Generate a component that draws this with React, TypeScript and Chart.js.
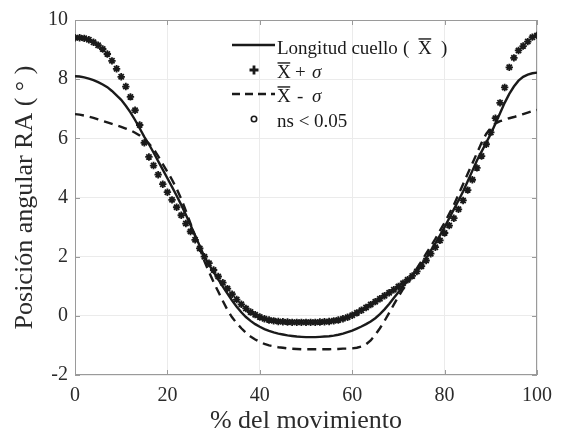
import React, { useEffect, useRef } from "react";
import { Chart, registerables } from "chart.js";

Chart.register(...registerables);

// % del movimiento (x)
const pctMovimiento = [
  0, 1, 2, 3, 4, 5, 6, 7, 8, 9, 10, 11, 12, 13, 14, 15, 16, 17, 18, 19, 20,
  21, 22, 23, 24, 25, 26, 27, 28, 29, 30, 31, 32, 33, 34, 35, 36, 37, 38, 39, 40,
  41, 42, 43, 44, 45, 46, 47, 48, 49, 50, 51, 52, 53, 54, 55, 56, 57, 58, 59, 60,
  61, 62, 63, 64, 65, 66, 67, 68, 69, 70, 71, 72, 73, 74, 75, 76, 77, 78, 79, 80,
  81, 82, 83, 84, 85, 86, 87, 88, 89, 90, 91, 92, 93, 94, 95, 96, 97, 98, 99, 100,
];

// Longitud cuello (media)
const mediaLongitud = [
  8.1, 8.09, 8.06, 8.02, 7.97, 7.9, 7.82, 7.73, 7.6, 7.45, 7.3,
  7.1, 6.88, 6.62, 6.34, 6.05, 5.8, 5.52, 5.23, 4.94, 4.65,
  4.36, 4.06, 3.75, 3.42, 3.07, 2.72, 2.36, 2.0, 1.73, 1.48,
  1.23, 0.99, 0.75, 0.52, 0.31, 0.12, -0.04, -0.17, -0.28, -0.37,
  -0.45, -0.51, -0.56, -0.6, -0.63, -0.66, -0.68, -0.7, -0.71, -0.72,
  -0.72, -0.72, -0.71, -0.7, -0.69, -0.67, -0.64, -0.6, -0.55, -0.5,
  -0.43, -0.36, -0.28, -0.19, -0.08, 0.06, 0.22, 0.4, 0.6, 0.8,
  1.0, 1.2, 1.38, 1.56, 1.75, 1.95, 2.2, 2.45, 2.72, 3.0,
  3.3, 3.6, 3.9, 4.2, 4.55, 4.9, 5.25, 5.55, 5.85, 6.15,
  6.5, 6.85, 7.2, 7.5, 7.75, 7.95, 8.08, 8.15, 8.2, 8.22,
];

// Media + sigma
const mediaMasSigma = [
  9.4, 9.4, 9.38, 9.33, 9.25, 9.15, 9.02, 8.85, 8.62, 8.35, 8.08,
  7.75, 7.4, 6.95, 6.45, 5.85, 5.37, 5.08, 4.77, 4.45, 4.18,
  3.92, 3.67, 3.4, 3.12, 2.85, 2.57, 2.28, 2.0, 1.78, 1.55,
  1.33, 1.12, 0.92, 0.73, 0.55, 0.39, 0.25, 0.13, 0.04, -0.04,
  -0.1, -0.14, -0.17, -0.19, -0.2, -0.21, -0.22, -0.22, -0.22, -0.22,
  -0.22, -0.22, -0.21, -0.2, -0.19, -0.17, -0.14, -0.1, -0.05, 0.02,
  0.1, 0.19, 0.28, 0.38, 0.48, 0.58, 0.68, 0.78, 0.88, 0.99,
  1.1, 1.22, 1.35, 1.5, 1.68, 1.87, 2.1, 2.32, 2.55, 2.8,
  3.05, 3.3, 3.6, 3.9, 4.25, 4.6, 5.0, 5.4, 5.8, 6.2,
  6.68, 7.2, 7.72, 8.4, 8.72, 8.97, 9.12, 9.27, 9.42, 9.48,
];

// Media - sigma
const mediaMenosSigma = [
  6.82, 6.8, 6.77, 6.73, 6.69, 6.64, 6.59, 6.54, 6.49, 6.44, 6.39,
  6.33, 6.27, 6.19, 6.1, 5.97, 5.82, 5.64, 5.4, 5.13, 4.87,
  4.6, 4.3, 3.95, 3.55, 3.12, 2.7, 2.27, 1.85, 1.48, 1.14,
  0.82, 0.5, 0.2, -0.05, -0.25, -0.42, -0.57, -0.7, -0.8, -0.88,
  -0.95, -1.0, -1.03, -1.06, -1.08, -1.1, -1.11, -1.12, -1.13, -1.13,
  -1.13, -1.13, -1.13, -1.13, -1.13, -1.12, -1.12, -1.11, -1.11, -1.1,
  -1.08, -1.04, -0.96, -0.83, -0.64, -0.42, -0.17, 0.1, 0.38, 0.65,
  0.9, 1.12, 1.35, 1.6, 1.85, 2.1, 2.35, 2.6, 2.88, 3.15,
  3.45, 3.75, 4.1, 4.45, 4.8, 5.15, 5.5, 5.85, 6.15, 6.35,
  6.5, 6.58, 6.63, 6.68, 6.72, 6.77, 6.82, 6.87, 6.92, 6.96,
];

// ns < 0.05 (no points visible)
const nsX: number[] = [];
const nsY: number[] = [];

const xTicks = [0, 20, 40, 60, 80, 100];
const yTicks = [-2, 0, 2, 4, 6, 8, 10];

const SERIF = "'Liberation Serif', 'Times New Roman', serif";
const AXIS_COLOR = "#9a9a9a";
const INK = "#1a1a1a";

const toPoints = (ys: number[]) => ys.map((y, i) => ({ x: pctMovimiento[i], y }));

const boxPlugin = {
  id: "boxPlugin",
  beforeDatasetsDraw(chart: any) {
    const { ctx, chartArea } = chart;
    const { left, right, top, bottom } = chartArea;
    const xs = chart.scales.x;
    const ys = chart.scales.y;
    ctx.save();
    ctx.strokeStyle = AXIS_COLOR;
    ctx.lineWidth = 1;
    ctx.strokeRect(Math.round(left) + 0.5, Math.round(top) + 0.5, Math.round(right - left) - 1, Math.round(bottom - top) - 1);
    ctx.beginPath();
    const tl = 5;
    xTicks.forEach((v) => {
      const px = Math.round(xs.getPixelForValue(v)) + 0.5;
      ctx.moveTo(px, bottom);
      ctx.lineTo(px, bottom - tl);
      ctx.moveTo(px, top);
      ctx.lineTo(px, top + tl);
    });
    yTicks.forEach((v) => {
      const py = Math.round(ys.getPixelForValue(v)) + 0.5;
      ctx.moveTo(left, py);
      ctx.lineTo(left + tl, py);
      ctx.moveTo(right, py);
      ctx.lineTo(right - tl, py);
    });
    ctx.stroke();
    ctx.restore();
  },
};

const drawXbar = (ctx: CanvasRenderingContext2D, x: number, baseline: number, size: number) => {
  ctx.fillText("X", x, baseline);
  const w = ctx.measureText("X").width;
  const yb = baseline - size * 0.66 - 2.5;
  ctx.beginPath();
  ctx.lineWidth = 1.4;
  ctx.moveTo(x + 0.5, yb);
  ctx.lineTo(x + w - 0.5, yb);
  ctx.stroke();
  return w;
};

const legendPlugin = {
  id: "legendPlugin",
  afterDraw(chart: any) {
    const ctx: CanvasRenderingContext2D = chart.ctx;
    const size = 19;
    const font = `${size}px ${SERIF}`;
    const italic = `italic ${size}px ${SERIF}`;
    const symX0 = 232;
    const symX1 = 275;
    const symC = 254;
    const textX = 277;
    const baselines = [54, 78, 102, 127];
    ctx.save();
    ctx.fillStyle = INK;
    ctx.strokeStyle = INK;
    ctx.textBaseline = "alphabetic";
    ctx.textAlign = "left";

    // Row 1: solid line
    let b = baselines[0];
    let sy = b - 9;
    ctx.lineWidth = 2.4;
    ctx.beginPath();
    ctx.moveTo(symX0, sy);
    ctx.lineTo(symX1, sy);
    ctx.stroke();
    ctx.font = font;
    ctx.fillText("Longitud cuello", textX, b);
    ctx.fillText("(", 403, b);
    drawXbar(ctx, 418, b, size);
    ctx.fillText(")", 441, b);

    // Row 2: plus marker
    b = baselines[1];
    sy = b - 8;
    ctx.lineWidth = 2.8;
    ctx.beginPath();
    ctx.moveTo(symC - 4.5, sy);
    ctx.lineTo(symC + 4.5, sy);
    ctx.moveTo(symC, sy - 4.5);
    ctx.lineTo(symC, sy + 4.5);
    ctx.stroke();
    ctx.font = font;
    drawXbar(ctx, textX, b, size);
    ctx.fillText("+", 295, b);
    ctx.font = italic;
    ctx.fillText("σ", 312, b);

    // Row 3: dashed line
    b = baselines[2];
    sy = b - 8;
    ctx.lineWidth = 2.4;
    ctx.setLineDash([8, 5]);
    ctx.beginPath();
    ctx.moveTo(symX0, sy);
    ctx.lineTo(symX1, sy);
    ctx.stroke();
    ctx.setLineDash([]);
    ctx.font = font;
    drawXbar(ctx, textX, b, size);
    ctx.fillText("-", 297, b);
    ctx.font = italic;
    ctx.fillText("σ", 312, b);

    // Row 4: circle
    b = baselines[3];
    sy = b - 8;
    ctx.lineWidth = 1.6;
    ctx.beginPath();
    ctx.arc(symC, sy, 2.7, 0, Math.PI * 2);
    ctx.stroke();
    ctx.font = font;
    ctx.fillText("ns < 0.05", textX, b);

    ctx.restore();
  },
};

export default function App() {
  const canvasRef = useRef<HTMLCanvasElement | null>(null);

  useEffect(() => {
    if (!canvasRef.current) return;
    const chart = new Chart(canvasRef.current, {
      type: "line",
      data: {
        datasets: [
          {
            label: "Longitud cuello (X̄)",
            data: toPoints(mediaLongitud),
            borderColor: INK,
            borderWidth: 2.4,
            pointRadius: 0,
            tension: 0,
            order: 2,
          },
          {
            label: "X̄ + σ",
            data: toPoints(mediaMasSigma),
            showLine: false,
            pointStyle: "star",
            pointRadius: 3.7,
            pointBorderWidth: 1.8,
            borderColor: INK,
            backgroundColor: INK,
            order: 0,
          },
          {
            label: "X̄ - σ",
            data: toPoints(mediaMenosSigma),
            borderColor: INK,
            borderWidth: 2.4,
            borderDash: [9, 6],
            pointRadius: 0,
            tension: 0,
            order: 1,
          },
          {
            label: "ns < 0.05",
            data: nsX.map((x, i) => ({ x, y: nsY[i] })),
            showLine: false,
            pointStyle: "circle",
            pointRadius: 2.7,
            borderColor: INK,
            backgroundColor: "transparent",
            order: 3,
          },
        ],
      },
      options: {
        responsive: false,
        animation: false,
        layout: { padding: { top: 20, right: 18, left: 0, bottom: 0 } },
        plugins: {
          legend: { display: false },
          tooltip: { enabled: false },
        },
        scales: {
          x: {
            type: "linear",
            min: 0,
            max: 100,
            afterBuildTicks: (s: any) => {
              s.ticks = xTicks.map((v) => ({ value: v }));
            },
            afterFit: (s: any) => {
              s.height = 64;
            },
            grid: { color: "#ebebeb", drawTicks: false },
            border: { display: false },
            ticks: {
              padding: 9,
              color: "#2b2b2b",
              font: { family: SERIF, size: 20 },
              maxRotation: 0,
            },
            title: {
              display: true,
              text: "% del movimiento",
              color: "#2b2b2b",
              font: { family: SERIF, size: 26 },
              padding: { top: 0, bottom: 2 },
            },
          },
          y: {
            type: "linear",
            min: -2,
            max: 10,
            afterBuildTicks: (s: any) => {
              s.ticks = yTicks.map((v) => ({ value: v }));
            },
            afterFit: (s: any) => {
              s.width = 75;
            },
            grid: { color: "#ebebeb", drawTicks: false },
            border: { display: false },
            ticks: {
              padding: 7,
              color: "#2b2b2b",
              font: { family: SERIF, size: 20 },
            },
            title: {
              display: true,
              text: "Posición angular RA ( ° )",
              color: "#2b2b2b",
              font: { family: SERIF, size: 26 },
              padding: { top: 10, bottom: 0 },
            },
          },
        },
      },
      plugins: [boxPlugin, legendPlugin],
    });
    return () => chart.destroy();
  }, []);

  return (
    <div style={{ position: "absolute", left: 0, top: 0, width: 561, height: 439, background: "#fff" }}>
      <canvas ref={canvasRef} width={561} height={439} style={{ display: "block" }} />
    </div>
  );
}
